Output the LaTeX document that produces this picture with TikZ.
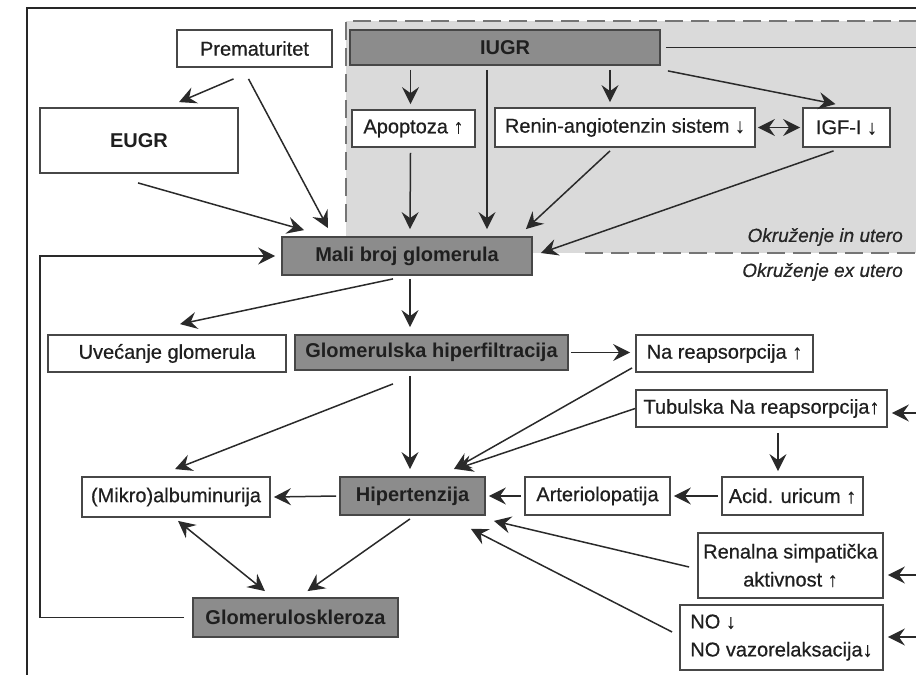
\documentclass[tikz,border=0pt]{standalone}
\usepackage{fontspec}
\setmainfont{Liberation Sans}[UprightFeatures={FakeBold=0.6},ItalicFeatures={FakeBold=0.4}]
\usetikzlibrary{arrows.meta,calc}
\definecolor{keyfill}{HTML}{8C8C8C}
\definecolor{uterofill}{HTML}{DADADA}
\definecolor{boxline}{HTML}{474747}
\definecolor{arrline}{HTML}{2A2A2A}
\tikzset{
  box/.style={draw=boxline, line width=1.8pt, fill=white, inner sep=0pt, text=black!88, font=\fontsize{20}{28}\selectfont},
  keybox/.style={box, fill=keyfill, font=\fontsize{20}{28}\selectfont\bfseries},
  arr/.style={draw=arrline, line width=1.5pt, -{Stealth[length=17pt,width=17pt,inset=6pt]}},
  darr/.style={arr, {Stealth[length=17pt,width=17pt,inset=6pt]}-{Stealth[length=17pt,width=17pt,inset=6pt]}},
  zone/.style={font=\fontsize{19}{22}\selectfont\itshape, text=black!85, anchor=east, inner sep=0pt}
}
\begin{document}
\begin{tikzpicture}[x=1pt,y=-1pt]
\useasboundingbox (0,0) rectangle (916,675);
\fill[uterofill] (346,21) rectangle (916,253);
\draw[boxline!75, line width=1.6pt, dash pattern=on 18pt off 8pt] (346,222) -- (346,21) -- (916,21);
\draw[boxline!75, line width=1.6pt, dash pattern=on 18pt off 8pt] (585,253) -- (916,253);
\draw[black!85, line width=1.4pt] (916,8) -- (27,8) -- (27,675);
\node[box, minimum width=155pt, minimum height=37pt] (prem) at (254.5,48.5) {Prematuritet};
\node[box, minimum width=198pt, minimum height=65pt, font=\fontsize{20}{28}\selectfont\bfseries] (eugr) at (139,140.5) {EUGR};
\node[keybox, minimum width=310pt, minimum height=35pt] (iugr) at (505,47.5) {IUGR};
\node[box, minimum width=123pt, minimum height=37pt] (apop) at (413.5,128.5) {Apoptoza ↑};
\node[box, minimum width=260pt, minimum height=39pt] (renin) at (625,127.5) {Renin-angiotenzin sistem ↓};
\node[box, minimum width=87pt, minimum height=39pt] (igf) at (846.5,127.5) {IGF-I ↓};
\node[keybox, minimum width=250pt, minimum height=38pt] (mali) at (407,256) {Mali broj glomerula};
\node[zone] (inutero) at (903,237) {Okruženje in utero};
\node[zone] (exutero) at (903,272) {Okruženje ex utero};
\node[box, minimum width=238pt, minimum height=37pt] (uvec) at (167,353.5) {Uvećanje glomerula};
\node[keybox, minimum width=273pt, minimum height=35pt] (ghf) at (431.5,352.5) {Glomerulska hiperfiltracija};
\node[box, minimum width=177pt, minimum height=37pt] (nare) at (724.5,353.5) {Na reapsorpcija ↑};
\node[box, minimum width=251pt, minimum height=37pt] (tub) at (761.5,408.5) {Tubulska Na reapsorpcija↑};
\node[box, minimum width=188pt, minimum height=40pt] (mikro) at (176,497) {(Mikro)albuminurija};
\node[keybox, minimum width=145pt, minimum height=38pt] (hip) at (412.5,496) {Hipertenzija};
\node[box, minimum width=145pt, minimum height=38pt] (arte) at (597.5,496) {Arteriolopatija};
\node[box, minimum width=141pt, minimum height=38pt] (acid) at (792.5,496) {Acid. uricum ↑};
\node[box, minimum width=185pt, minimum height=65pt, align=center] (simp) at (790.5,565.5) {Renalna simpatička\\aktivnost ↑};
\node[box, minimum width=203pt, minimum height=65pt, align=left] (no) at (781.5,637.5) {NO ↓\\NO vazorelaksacija↓};
\node[keybox, minimum width=205pt, minimum height=39pt] (gs) at (295.5,617.5) {Glomeruloskleroza};
\coordinate (iugrout) at (916,47.5);
\coordinate (tubin) at (916,413);
\coordinate (simpin) at (916,575);
\coordinate (noin) at (916,637);
\coordinate (fb) at (40,256);
\draw[arr] ($(prem.south)+(-21,11)$) -- ($(eugr.north)+(40,-5)$);
\draw[arr] ($(prem.south)+(-6,11)$) -- ($(mali.north)+(-79,-8)$);
\draw[arr] ($(eugr.south)+(-1,9)$) -- ($(mali.north west)+(23,-6)$);
\draw[arr] ($(apop.north |- iugr.south)+(-3,4)$) -- ($(apop.north)+(-3,-5)$);
\draw[arr] ($(iugr.south)+(-18,4)$) -- ($(mali.north)+(80,-7)$);
\draw[arr] ($(iugr.south)+(105,4)$) -- ($(renin.north)+(-15,-5)$);
\draw[arr] ($(iugr.south east)+(7,5)$) -- ($(igf.north)+(-11,-3)$);
\draw[draw=arrline, line width=1.5pt] ($(iugr.east)+(5,0)$) -- (iugrout);
\draw[arr] ($(apop.south)+(-3,5)$) -- ($(mali.north)+(3,-7)$);
\draw[arr] ($(renin.south)+(-15,3)$) -- ($(mali.north east)+(-7,-7)$);
\draw[arr] ($(igf.south)+(-13,3)$) -- ($(mali.east)+(8,-3)$);
\draw[darr] ($(renin.east)+(2,0)$) -- ($(igf.west)+(-2,0)$);
\draw[arr] ($(mali.south)+(-14,3)$) -- ($(uvec.north)+(13,-10)$);
\draw[arr] ($(mali.south)+(3,3)$) -- ($(ghf.north)+(-21.5,-7)$);
\draw[arr] ($(ghf.east)+(2,0)$) -- ($(nare.west)+(-5,-1)$);
\draw[arr] ($(ghf.south)+(-38.5,13)$) -- ($(mikro.north)+(-1,-7)$);
\draw[arr] ($(ghf.south)+(-21.5,5)$) -- ($(hip.north)+(-2.5,-7)$);
\draw[arr] ($(nare.south west)+(-3,-5)$) -- ($(hip.north east)+(-32,-7)$);
\draw[arr] (tub.west) -- ($(hip.north east)+(-30,-7)$);
\draw[arr] ($(tub.south)+(16.5,5)$) -- ($(acid.north)+(-14.5,-5)$);
\draw[arr] ($(acid.west)+(-3,0)$) -- ($(arte.east)+(3,0)$);
\draw[arr] ($(arte.west)+(-3,0)$) -- ($(hip.east)+(3,0)$);
\draw[arr] ($(hip.west)+(-3,0)$) -- ($(mikro.east)+(3,0)$);
\draw[arr] ($(simp.west)+(-8,1.5)$) -- ($(hip.south east)+(8,5)$);
\draw[arr] ($(no.west)+(-7,-5.5)$) -- ($(hip.south east)+(-15,13)$);
\draw[darr] ($(mikro.south)+(2,3)$) -- ($(gs.north)+(-30.5,-6)$);
\draw[arr] ($(hip.south)+(-2.5,3)$) -- ($(gs.north)+(12,-6)$);
\draw[arr] ($(gs.west)+(-8,0)$) -| (fb) -- ($(mali.west)+(-6,0)$);
\draw[arr] (tubin) -- ($(tub.east)+(4,4.5)$);
\draw[arr] (simpin) -- ($(simp.east)+(4,9.5)$);
\draw[arr] (noin) -- ($(no.east)+(4,-0.5)$);
\end{tikzpicture}
\end{document}
